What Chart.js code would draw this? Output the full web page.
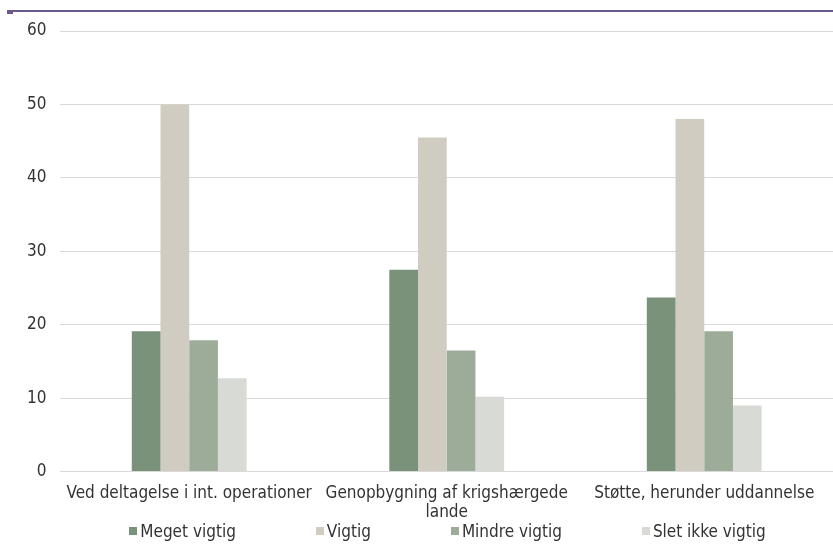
<!DOCTYPE html>
<html><head><meta charset="utf-8">
<script src="https://cdn.jsdelivr.net/npm/chart.js@4/dist/chart.umd.min.js"></script>
<style>
html,body{margin:0;padding:0;background:#fff;}
#wrap{width:833px;height:548px;position:relative;overflow:hidden;}
#legend{position:absolute;left:0;top:520px;width:833px;height:22px;display:flex;justify-content:center;gap:80px;
  font-family:'Liberation Sans Narrow','DejaVu Sans Condensed',sans-serif;font-size:17px;color:#333;line-height:22px;padding-left:62px;box-sizing:border-box;}
#legend span.item{display:flex;align-items:center;white-space:nowrap;}
#legend span.box{display:inline-block;width:8px;height:8px;margin-right:3px;}
</style>
</head><body><div id="wrap"><canvas id="c" width="833" height="548"></canvas><div id="legend"></div></div>
<script>
const categories = [["Ved deltagelse i int. operationer"], ["Genopbygning af krigshærgede", "lande"], ["Støtte, herunder uddannelse"]];
const seriesNames = ["Meget vigtig", "Vigtig", "Mindre vigtig", "Slet ikke vigtig"];
const megetVigtig = [19.1, 27.5, 23.7];
const vigtig = [50.0, 45.5, 48.0];
const mindreVigtig = [17.9, 16.5, 19.1];
const sletIkkeVigtig = [12.7, 10.2, 9.0];
const colors = ["#7a9279", "#d0ccc1", "#9dac99", "#d8dbd5"];

const FONT = "'Liberation Sans Narrow', 'DejaVu Sans Condensed', sans-serif";

const topLine = {
  id: 'topLine',
  afterDraw(chart) {
    const ctx = chart.ctx;
    ctx.save();
    ctx.fillStyle = '#6a5a8c';
    ctx.fillRect(7, 10, 826, 2);
    ctx.fillRect(7, 12, 6, 2);
    ctx.restore();
  }
};

const chart = new Chart(document.getElementById('c'), {
  type: 'bar',
  data: {
    labels: categories,
    datasets: [megetVigtig, vigtig, mindreVigtig, sletIkkeVigtig].map((d, i) => ({
      label: seriesNames[i],
      data: d,
      backgroundColor: colors[i],
      borderWidth: 0,
      barPercentage: 1.0,
      categoryPercentage: 0.446
    }))
  },
  options: {
    responsive: false,
    animation: false,
    layout: { padding: { top: 31, left: 13, right: 0, bottom: 13 } },
    plugins: {
      legend: { display: false },
      tooltip: { enabled: false }
    },
    scales: {
      x: {
        grid: { display: false, drawTicks: false },
        border: { color: '#d9d9d9', width: 1 },
        ticks: { font: { family: FONT, size: 17, lineHeight: 1.1 }, color: '#333', maxRotation: 0, autoSkip: false, padding: 13 }
      },
      y: {
        min: 0, max: 60,
        ticks: { stepSize: 10, font: { family: FONT, size: 17 }, color: '#333', padding: 14 },
        grid: { color: '#d9d9d9', drawTicks: false },
        border: { display: false }
      }
    }
  },
  plugins: [topLine]
});

const legendEl = document.getElementById('legend');
chart.data.datasets.forEach(ds => {
  const item = document.createElement('span');
  item.className = 'item';
  const box = document.createElement('span');
  box.className = 'box';
  box.style.background = ds.backgroundColor;
  item.appendChild(box);
  item.appendChild(document.createTextNode(ds.label));
  legendEl.appendChild(item);
});
</script></body></html>
